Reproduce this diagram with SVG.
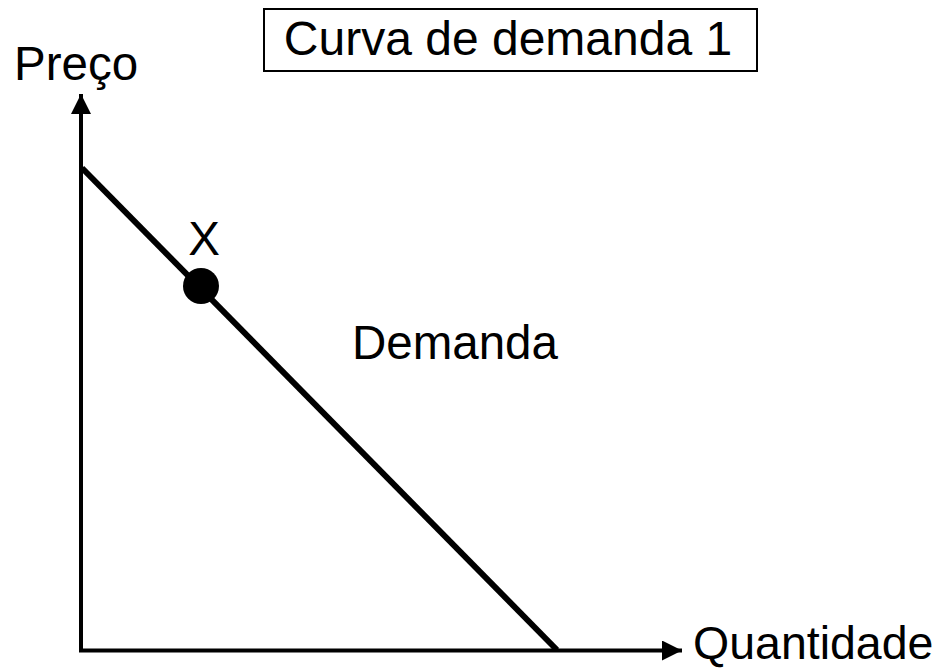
<svg xmlns="http://www.w3.org/2000/svg" width="947" height="670" viewBox="0 0 947 670">
<style>
text{font-family:"Liberation Sans",Arial,sans-serif;font-size:47.5px;fill:#000}
.ax{stroke:#000;stroke-width:4;fill:none}
</style>
<defs>
<marker id="ah" markerUnits="userSpaceOnUse" markerWidth="20" markerHeight="20" refX="20" refY="10" orient="auto">
<path d="M0,0 L20,10 L0,20 Z" fill="#000"/>
</marker>
</defs>
<rect width="947" height="670" fill="#fff"/>
<g id="title">
<rect x="264" y="9" width="493" height="62" fill="#fff" stroke="#000" stroke-width="2"/>
<text x="508" y="55" text-anchor="middle" style="font-size:48px">Curva de demanda 1</text>
</g>
<g id="connectors">
<path class="ax" d="M81,650.5 L81,94" marker-end="url(#ah)"/>
<path class="ax" d="M79,650.5 L682,650.5" marker-end="url(#ah)"/>
<path d="M82,168 L557,650" stroke="#000" stroke-width="6" fill="none"/>
</g>
<g id="label-preco"><text x="14" y="80">Preço</text></g>
<g id="label-quantidade"><text x="693" y="659" style="font-size:46.5px">Quantidade</text></g>
<g id="label-demanda"><text x="352" y="359">Demanda</text></g>
<g id="point-x">
<circle cx="201" cy="286" r="18" fill="#000"/>
<text x="204" y="255" text-anchor="middle">X</text>
</g>
</svg>
